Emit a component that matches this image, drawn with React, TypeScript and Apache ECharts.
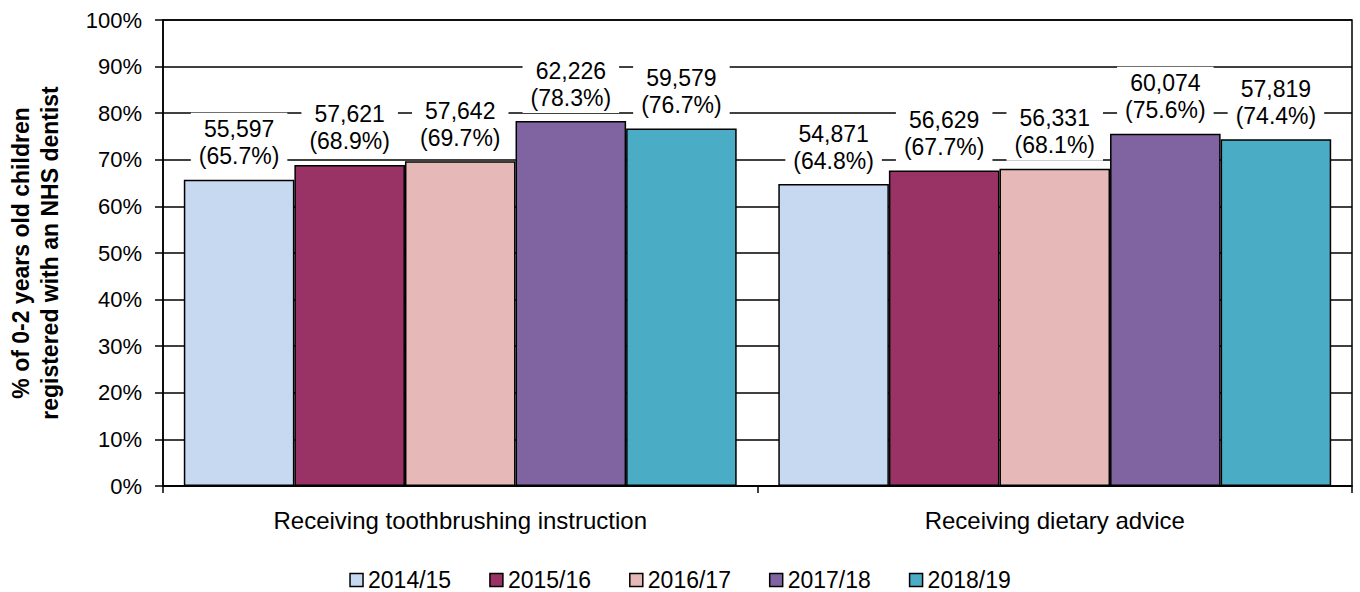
import React, { useEffect, useRef } from "react";
import * as echarts from "echarts";

const categories = ["Receiving toothbrushing instruction", "Receiving dietary advice"];
const seriesNames = ["2014/15", "2015/16", "2016/17", "2017/18", "2018/19"];
const percentValues = [
  [65.7, 64.8],
  [68.9, 67.7],
  [69.7, 68.1],
  [78.3, 75.6],
  [76.7, 74.4],
];
const countValues = [
  [55597, 54871],
  [57621, 56629],
  [57642, 56331],
  [62226, 60074],
  [59579, 57819],
];
const colors = ["#C6D9F1", "#993366", "#E6B9B8", "#8064A2", "#4BACC6"];

const FONT = "Liberation Sans, Arial, sans-serif";

export default function App() {
  const ref = useRef<HTMLDivElement>(null);
  useEffect(() => {
    document.body.style.margin = "0";
    const chart = echarts.init(ref.current!, undefined, { renderer: "svg" });
    chart.setOption({
      animation: false,
      textStyle: { fontFamily: FONT, color: "#000" },
      grid: {
        left: 163,
        right: 8,
        top: 20,
        bottom: 106,
        containLabel: false,
        outerBoundsMode: "none",
        show: true,
        borderColor: "#000",
        borderWidth: 1.5,
      },
      legend: {
        top: 562,
        left: "center",
        icon: "rect",
        itemWidth: 13,
        itemHeight: 13,
        itemGap: 38,
        textStyle: { fontSize: 23, color: "#000", fontFamily: FONT, lineHeight: 26 },
        itemStyle: { borderColor: "#000", borderWidth: 1.5 },
        data: seriesNames,
      },
      xAxis: {
        type: "category",
        data: categories,
        axisLine: { lineStyle: { color: "#000", width: 1.5 } },
        axisTick: { show: true, length: 7, lineStyle: { color: "#000", width: 1.5 } },
        axisLabel: { fontSize: 24, color: "#000", margin: 22, fontFamily: FONT },
      },
      yAxis: {
        type: "value",
        min: 0,
        max: 100,
        interval: 10,
        name: "% of 0-2 years old children\nregistered with an NHS dentist",
        nameLocation: "middle",
        nameRotate: 90,
        nameGap: 99,
        nameTextStyle: { fontSize: 23, fontWeight: "bold", color: "#000", lineHeight: 29, fontFamily: FONT },
        axisLine: { show: true, lineStyle: { color: "#000", width: 1.5 } },
        axisTick: { show: true, length: 8, lineStyle: { color: "#000", width: 1.5 } },
        axisLabel: { fontSize: 22, color: "#000", margin: 21, formatter: "{value}%", fontFamily: FONT },
        splitLine: { show: true, lineStyle: { color: "#000", width: 1.5 } },
      },
      series: seriesNames.map((name, i) => ({
        name,
        type: "bar",
        data: percentValues[i],
        barGap: "0%",
        barCategoryGap: "7%",
        itemStyle: { color: colors[i], borderColor: "#000", borderWidth: 1.5 },
        label: {
          show: true,
          position: "top",
          distance: 8,
          fontSize: 23,
          lineHeight: 27,
          color: "#000",
          fontFamily: FONT,
          backgroundColor: "#fff",
          padding: [3, 8, 2, 8],
          formatter: (p: any) =>
            countValues[i][p.dataIndex].toLocaleString("en-GB") + "\n(" + percentValues[i][p.dataIndex].toFixed(1) + "%)",
        },
      })),
    });
    return () => chart.dispose();
  }, []);
  return <div ref={ref} style={{ width: 1360, height: 592 }} />;
}
